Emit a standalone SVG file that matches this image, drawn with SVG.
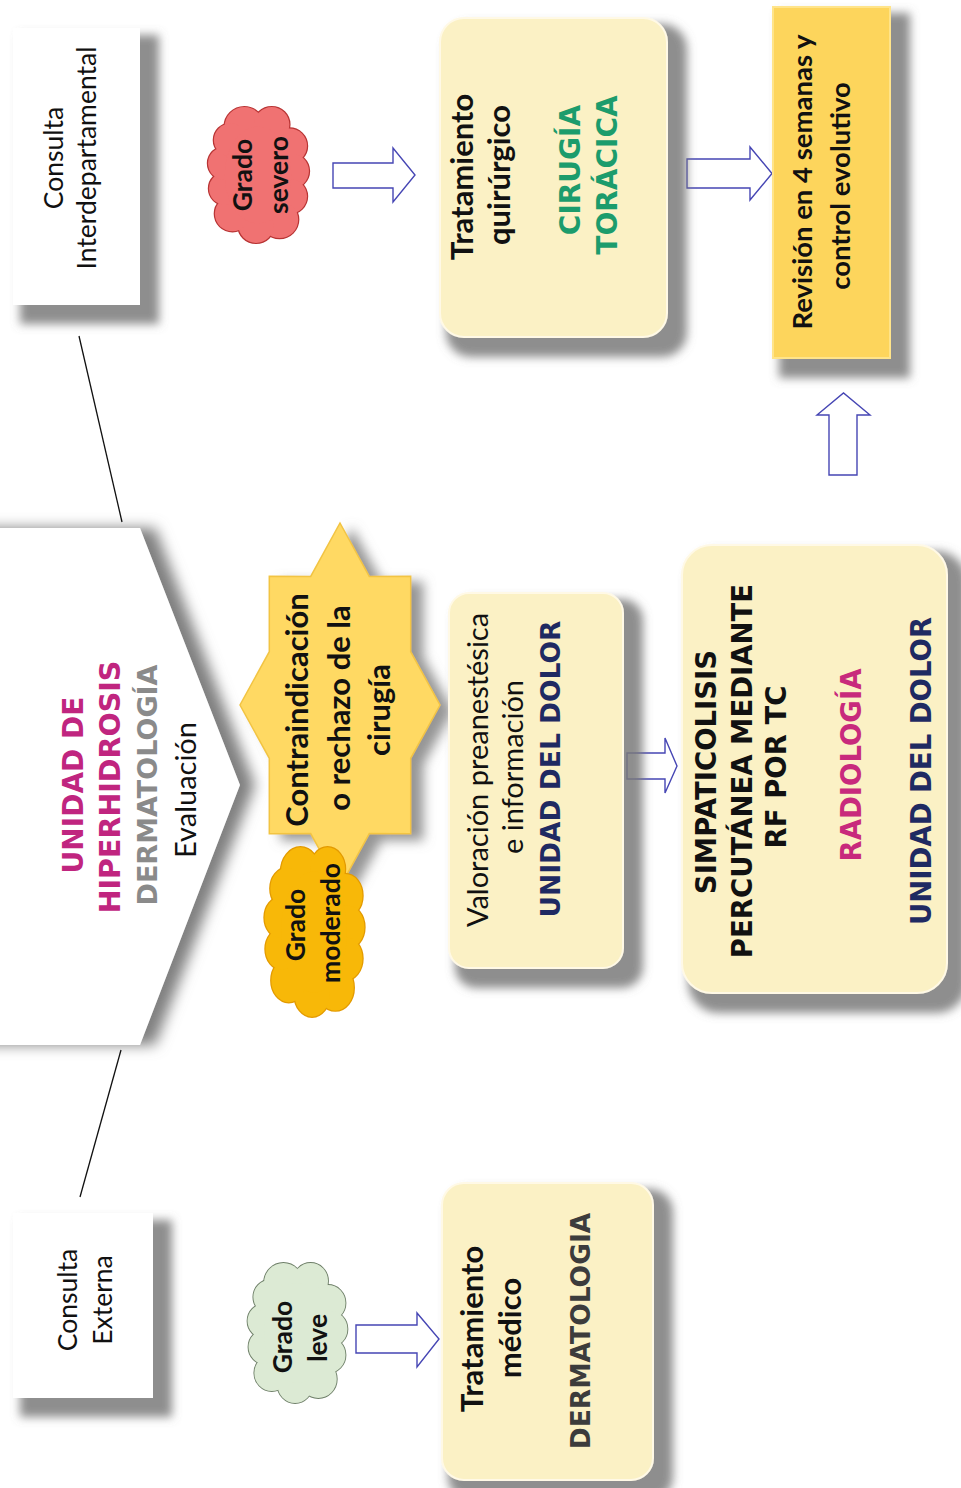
<svg xmlns="http://www.w3.org/2000/svg" xmlns:xlink="http://www.w3.org/1999/xlink" width="961" height="1488" viewBox="0 0 961 1488">
<style>
.lr{font-family:Lato,"Open Sans","Liberation Sans",sans-serif;font-weight:400;fill:#111}
.lb{font-family:Lato,"Open Sans","Liberation Sans",sans-serif;font-weight:700;fill:#111}
.db{font-family:"DejaVu Sans","Liberation Sans",sans-serif;font-weight:700;fill:#111}
.cream{fill:#FBF1C5;stroke:#FFF9E6;stroke-width:2}
.white{fill:#FFFFFF}
.arrow{fill:#FFFFFF;stroke:#4646B4;stroke-width:1.4;stroke-linejoin:miter}
.line{stroke:#111;stroke-width:1.3;fill:none}
.mag{fill:#C0257F}
.navy{fill:#1F2A62}
.green{fill:#1C9C6C}
.gray{fill:#8A8A8A}
.dgray{fill:#3C3C3C}
.radio{fill:#C82A7C}
</style>
<defs>
<filter id="sh" x="-20%" y="-20%" width="150%" height="150%">
<feMorphology in="SourceAlpha" operator="dilate" radius="6" result="d"/>
<feGaussianBlur in="d" stdDeviation="5" result="b"/>
<feOffset in="b" dx="13" dy="13" result="o"/>
<feFlood flood-color="#7A7A7A" flood-opacity="0.85"/>
<feComposite in2="o" operator="in" result="s"/>
<feMerge><feMergeNode in="s"/><feMergeNode in="SourceGraphic"/></feMerge>
</filter>
<filter id="shc" x="-30%" y="-10%" width="160%" height="120%">
<feGaussianBlur in="SourceAlpha" stdDeviation="7" result="b"/>
<feOffset in="b" dx="15" dy="0" result="o"/>
<feFlood flood-color="#808080" flood-opacity="1"/>
<feComposite in2="o" operator="in" result="s"/>
<feMerge><feMergeNode in="s"/><feMergeNode in="SourceGraphic"/></feMerge>
</filter>
<filter id="shs" x="-30%" y="-10%" width="160%" height="120%">
<feGaussianBlur in="SourceAlpha" stdDeviation="6" result="b"/>
<feOffset in="b" dx="12" dy="6" result="o"/>
<feFlood flood-color="#8A8A8A" flood-opacity="0.9"/>
<feComposite in2="o" operator="in" result="s"/>
<feMerge><feMergeNode in="s"/><feMergeNode in="SourceGraphic"/></feMerge>
</filter>
<g id="cloud">
<circle cx="-14" cy="-50" r="20" vector-effect="non-scaling-stroke"/>
<circle cx="14" cy="-52" r="18" vector-effect="non-scaling-stroke"/>
<circle cx="32" cy="-30" r="18" vector-effect="non-scaling-stroke"/>
<circle cx="34" cy="-4" r="18" vector-effect="non-scaling-stroke"/>
<circle cx="32" cy="22" r="18" vector-effect="non-scaling-stroke"/>
<circle cx="22" cy="46" r="19" vector-effect="non-scaling-stroke"/>
<circle cx="-2" cy="52" r="18" vector-effect="non-scaling-stroke"/>
<circle cx="-26" cy="40" r="18" vector-effect="non-scaling-stroke"/>
<circle cx="-33" cy="14" r="17" vector-effect="non-scaling-stroke"/>
<circle cx="-34" cy="-12" r="17" vector-effect="non-scaling-stroke"/>
<circle cx="-28" cy="-36" r="17" vector-effect="non-scaling-stroke"/>
<ellipse cx="0" cy="0" rx="34" ry="50" vector-effect="non-scaling-stroke"/>
</g>
</defs>
<rect width="961" height="1488" fill="#FFFFFF"/>

<g id="chevron">
<polygon points="-100,528 140,528 240,785 140,1045 -100,1045 0,785" class="white" filter="url(#shc)"/>
<text class="db mag" font-size="28" transform="translate(83,785) rotate(-90)" text-anchor="middle">UNIDAD DE</text>
<text class="db mag" font-size="28.5" transform="translate(120,787) rotate(-90)" text-anchor="middle">HIPERHIDROSIS</text>
<text class="db gray" font-size="27" transform="translate(157,785) rotate(-90)" text-anchor="middle">DERMATOLOGÍA</text>
<text class="lr" font-size="29" transform="translate(196,790) rotate(-90)" text-anchor="middle">Evaluación</text>
</g>

<g id="connectors">
<line class="line" x1="79" y1="336" x2="122" y2="522"/>
<line class="line" x1="121" y1="1050" x2="80" y2="1197"/>
<path class="arrow" d="M333,163 H393 V148 L415,175 L393,202 V188 H333 Z"/>
<path class="arrow" d="M687,159 H750 V147 L772,173.5 L750,200 V188 H687 Z"/>
<path class="arrow" d="M627,753 H665 V738 L677,766 L665,793 V779 H627 Z"/>
<path class="arrow" d="M356,1325 H417 V1313 L439,1339 L417,1367 V1353 H356 Z"/>
<path class="arrow" d="M829,475 V415 H817 L843.5,393 L870,415 H857 V475 Z"/>
</g>

<g id="consulta-interdepartamental">
<rect x="13" y="28" width="127" height="277" class="white" filter="url(#sh)"/>
<text class="lr" font-size="26.5" transform="translate(63,158) rotate(-90)" text-anchor="middle">Consulta</text>
<text class="lr" font-size="26.5" transform="translate(96,158) rotate(-90)" text-anchor="middle">Interdepartamental</text>
</g>

<g id="grado-severo">
<use xlink:href="#cloud" href="#cloud" transform="translate(258,175) scale(0.98,0.97)" fill="#F07272" stroke="#B83434" stroke-width="2.4"/>
<use xlink:href="#cloud" href="#cloud" transform="translate(258,175) scale(0.98,0.97)" fill="#F07272" stroke="none"/>
<text class="lb" font-size="26.5" transform="translate(252,175) rotate(-90)" text-anchor="middle">Grado</text>
<text class="lb" font-size="26.5" transform="translate(288,175) rotate(-90)" text-anchor="middle">severo</text>
</g>

<g id="tratamiento-quirurgico">
<rect x="440" y="18" width="227" height="319" rx="24" class="cream" filter="url(#sh)"/>
<text class="lb" font-size="31" transform="translate(473,177) rotate(-90)" text-anchor="middle">Tratamiento</text>
<text class="lb" font-size="31" transform="translate(510,175) rotate(-90)" text-anchor="middle">quirúrgico</text>
<text class="db green" font-size="28" transform="translate(580,170) rotate(-90)" text-anchor="middle">CIRUGÍA</text>
<text class="db green" font-size="28" transform="translate(617,175) rotate(-90)" text-anchor="middle">TORÁCICA</text>
</g>

<g id="revision">
<rect x="773" y="7" width="117" height="351" fill="#FDD55B" stroke="#FFE48A" stroke-width="2" filter="url(#sh)"/>
<text class="lb" font-size="27.5" transform="translate(812,182) rotate(-90)" text-anchor="middle">Revisión en 4 semanas y</text>
<text class="lb" font-size="27.5" transform="translate(850,186) rotate(-90)" text-anchor="middle">control evolutivo</text>
</g>

<g id="contraindicacion">
<polygon points="340,523 369.3,576.4 410.7,576.3 410.7,651.7 440,705 410.7,758.3 410.7,833.7 369.3,833.6 340,887 310.7,833.6 269.3,833.7 269.3,758.3 240,705 269.3,651.7 269.3,576.3 310.7,576.4" fill="#FFD963" stroke="#F2C443" stroke-width="1.5" filter="url(#shs)"/>
<text class="lb" font-size="31" transform="translate(308,710) rotate(-90)" text-anchor="middle">Contraindicación</text>
<text class="lb" font-size="31" transform="translate(350,708) rotate(-90)" text-anchor="middle">o rechazo de la</text>
<text class="lb" font-size="31" transform="translate(390,710) rotate(-90)" text-anchor="middle">cirugía</text>
</g>

<g id="grado-moderado">
<use xlink:href="#cloud" href="#cloud" transform="translate(314,932) scale(0.97,1.21)" fill="#F8B808" stroke="#E39A00" stroke-width="2.4"/>
<use xlink:href="#cloud" href="#cloud" transform="translate(314,932) scale(0.97,1.21)" fill="#F8B808" stroke="none"/>
<text class="lb" font-size="26.5" transform="translate(305,925) rotate(-90)" text-anchor="middle">Grado</text>
<text class="lb" font-size="26.5" transform="translate(340,923) rotate(-90)" text-anchor="middle">moderado</text>
</g>

<g id="valoracion">
<rect x="449" y="593" width="174" height="375" rx="20" class="cream" filter="url(#sh)"/>
<text class="lr" font-size="29" transform="translate(488,770) rotate(-90)" text-anchor="middle">Valoración preanestésica</text>
<text class="lr" font-size="29" transform="translate(523,767) rotate(-90)" text-anchor="middle">e información</text>
<text class="db navy" font-size="26.5" transform="translate(560,769) rotate(-90)" text-anchor="middle">UNIDAD DEL DOLOR</text>
</g>

<g id="simpaticolisis">
<rect x="682" y="545" width="265" height="448" rx="30" class="cream" filter="url(#sh)"/>
<text class="db" font-size="27.5" transform="translate(716,772) rotate(-90)" text-anchor="middle">SIMPATICOLISIS</text>
<text class="db" font-size="27.5" transform="translate(752,771) rotate(-90)" text-anchor="middle">PERCUTÁNEA MEDIANTE</text>
<text class="db" font-size="27.5" transform="translate(786,767) rotate(-90)" text-anchor="middle">RF POR TC</text>
<text class="db radio" font-size="27.5" transform="translate(861,765) rotate(-90)" text-anchor="middle">RADIOLOGÍA</text>
<text class="db navy" font-size="27.5" transform="translate(931,771) rotate(-90)" text-anchor="middle">UNIDAD DEL DOLOR</text>
</g>

<g id="consulta-externa">
<rect x="13" y="1213" width="140" height="185" class="white" filter="url(#sh)"/>
<text class="lr" font-size="26.5" transform="translate(77,1300) rotate(-90)" text-anchor="middle">Consulta</text>
<text class="lr" font-size="26.5" transform="translate(112,1300) rotate(-90)" text-anchor="middle">Externa</text>
</g>

<g id="grado-leve">
<use xlink:href="#cloud" href="#cloud" transform="translate(297,1333) scale(0.97,1.0)" fill="#DCEAD4" stroke="#6E7F68" stroke-width="1.8"/>
<use xlink:href="#cloud" href="#cloud" transform="translate(297,1333) scale(0.97,1.0)" fill="#DCEAD4" stroke="none"/>
<text class="lb" font-size="26.5" transform="translate(292,1337) rotate(-90)" text-anchor="middle">Grado</text>
<text class="lb" font-size="26.5" transform="translate(327,1338) rotate(-90)" text-anchor="middle">leve</text>
</g>

<g id="tratamiento-medico">
<rect x="442" y="1183" width="211" height="297" rx="22" class="cream" filter="url(#sh)"/>
<text class="lb" font-size="31" transform="translate(483,1329) rotate(-90)" text-anchor="middle">Tratamiento</text>
<text class="lb" font-size="31" transform="translate(521,1328) rotate(-90)" text-anchor="middle">médico</text>
<text class="db dgray" font-size="26.5" transform="translate(590,1331) rotate(-90)" text-anchor="middle">DERMATOLOGIA</text>
</g>
</svg>
